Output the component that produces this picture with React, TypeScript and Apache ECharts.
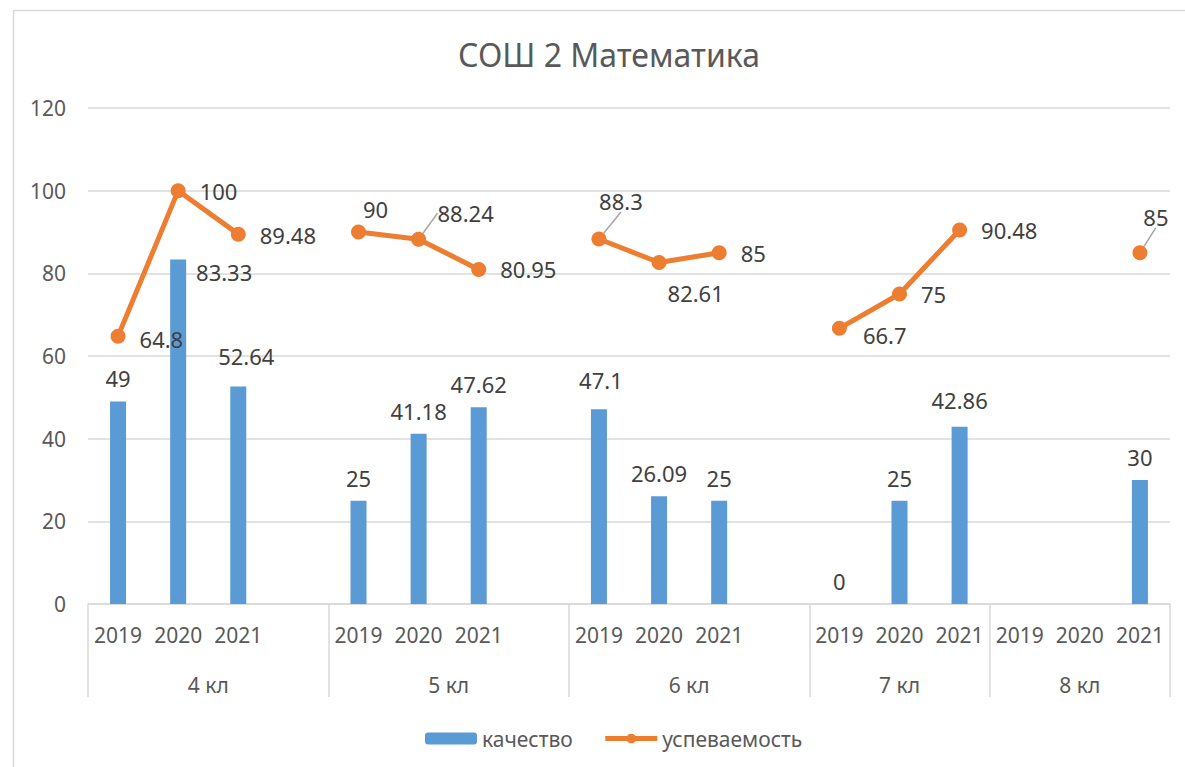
import React, { useEffect, useRef } from "react";
import * as echarts from "echarts";

// ---- data ----
const yearLabels = [
  "2019", "2020", "2021", "",
  "2019", "2020", "2021", "",
  "2019", "2020", "2021", "",
  "2019", "2020", "2021",
  "2019", "2020", "2021",
];
const groupNames = ["4 кл", "5 кл", "6 кл", "7 кл", "8 кл"];
const groupSizes = [4, 4, 4, 3, 3];
const kachestvo: (number | null)[] = [
  49, 83.33, 52.64, null,
  25, 41.18, 47.62, null,
  47.1, 26.09, 25, null,
  0, 25, 42.86,
  null, null, 30,
];
const uspevaemost: (number | null)[] = [
  64.8, 100, 89.48, null,
  90, 88.24, 80.95, null,
  88.3, 82.61, 85, null,
  66.7, 75, 90.48,
  null, null, 85,
];
const yMin = 0;
const yMax = 120;
const yStep = 20;
const seriesNames = ["качество", "успеваемость"];
const titleText = "СОШ 2 Математика";

// ---- styling / label placement (not data) ----
const FONT = "Noto Sans";
const barLabelOffsets: Record<number, [number, number]> = {
  1: [46, 35],
  2: [8, -7],
  8: [2, -6],
  14: [0, -4],
};
const lineLabelShifts: Record<number, [number, number]> = {
  0: [0, 3],
  2: [0, 1],
  4: [-17, -23],
  9: [-13, 30],
  12: [2, 7],
};
const leaderLabels: Record<number, [number, number]> = {
  5: [47, -26],
  8: [22, -38],
  17: [16, -36],
};

export default function App() {
  const ref = useRef<HTMLDivElement>(null);
  useEffect(() => {
    if (!ref.current) return;
    const chart = echarts.init(ref.current, null, { renderer: "svg" });

    const bounds: number[] = [0];
    const centers: number[] = [];
    groupSizes.forEach((s) => {
      const start = bounds[bounds.length - 1];
      centers.push(start + s / 2);
      bounds.push(start + s);
    });
    const total = bounds[bounds.length - 1];

    const barData = kachestvo.map((v, i) => {
      if (v === null) return "-";
      const off = barLabelOffsets[i];
      return off ? { value: v, label: { offset: off } } : v;
    });
    const lineData = uspevaemost.map((v, i) => {
      if (v === null) return "-";
      if (leaderLabels[i]) {
        return {
          value: v,
          labelLine: { show: true, lineStyle: { color: "#a6a6a6", width: 1.5 } },
        };
      }
      return v;
    });

    chart.setOption({
      animation: false,
      backgroundColor: "#ffffff",
      textStyle: { fontFamily: FONT },
      title: {
        text: titleText,
        left: 604,
        top: 33,
        textAlign: "center",
        textStyle: { fontSize: 32, fontWeight: "normal", color: "#595959", fontFamily: FONT },
      },
      legend: {
        data: [
          { name: seriesNames[0] },
          { name: seriesNames[1], lineStyle: { width: 5 } },
        ],
        left: 420,
        top: 723,
        itemWidth: 52,
        itemHeight: 12,
        itemGap: 30,
        textStyle: { fontSize: 21, color: "#595959", fontFamily: FONT },
      },
      grid: { left: 88, right: 15, top: 108, bottom: 163 },
      xAxis: [
        {
          type: "category",
          data: yearLabels,
          boundaryGap: true,
          axisLine: { show: true, lineStyle: { color: "#d9d9d9", width: 1.5 } },
          axisTick: { show: false },
          axisLabel: { interval: 0, margin: 20, fontSize: 21, color: "#595959", fontFamily: FONT },
          splitLine: { show: false },
        },
        {
          type: "value",
          min: 0,
          max: total,
          position: "bottom",
          axisLine: { show: false },
          splitLine: { show: false },
          axisTick: {
            show: true,
            customValues: bounds,
            length: 93,
            lineStyle: { color: "#d9d9d9", width: 1.5 },
          },
          axisLabel: {
            show: true,
            customValues: centers,
            margin: 70,
            fontSize: 21,
            color: "#595959",
            fontFamily: FONT,
            formatter: (val: number) => {
              const k = centers.findIndex((c) => Math.abs(c - val) < 1e-6);
              return k >= 0 ? groupNames[k] : "";
            },
          },
        },
      ],
      yAxis: {
        type: "value",
        min: yMin,
        max: yMax,
        interval: yStep,
        axisLine: { show: false },
        axisTick: { show: false },
        axisLabel: { margin: 22, fontSize: 21, color: "#595959", fontFamily: FONT },
        splitLine: { lineStyle: { color: "#d9d9d9", width: 1.5 } },
      },
      series: [
        {
          name: seriesNames[0],
          type: "bar",
          xAxisIndex: 0,
          data: barData,
          barWidth: 16,
          itemStyle: { color: "#5b9bd5" },
          label: {
            show: true,
            position: "top",
            distance: 12,
            fontSize: 22,
            color: "#404040",
            fontFamily: FONT,
          },
          z: 2,
        },
        {
          name: seriesNames[1],
          type: "line",
          xAxisIndex: 0,
          data: lineData,
          connectNulls: false,
          symbol: "circle",
          symbolSize: 15,
          showAllSymbol: true,
          lineStyle: { color: "#ed7d31", width: 5 },
          itemStyle: { color: "#ed7d31" },
          label: {
            show: true,
            position: "right",
            distance: 14,
            fontSize: 22,
            color: "#404040",
            fontFamily: FONT,
          },
          labelLayout: (p: any) => {
            const lead = leaderLabels[p.dataIndex];
            if (lead) {
              const cx = p.rect.x + p.rect.width / 2;
              const cy = p.rect.y + p.rect.height / 2;
              return { x: cx + lead[0], y: cy + lead[1], align: "center", verticalAlign: "middle" };
            }
            const s = lineLabelShifts[p.dataIndex];
            return s ? { dx: s[0], dy: s[1] } : {};
          },
          z: 3,
        },
      ],
      graphic: [
        {
          type: "rect",
          left: 11,
          top: 8,
          shape: { width: 1400, height: 1000 },
          style: { fill: "none", stroke: "#d9d9d9", lineWidth: 1.5 },
          silent: true,
          z: -10,
        },
      ],
    });
    return () => chart.dispose();
  }, []);
  return (
    <div
      ref={ref}
      style={{ position: "absolute", left: 0, top: 0, width: 1185, height: 767 }}
    />
  );
}
